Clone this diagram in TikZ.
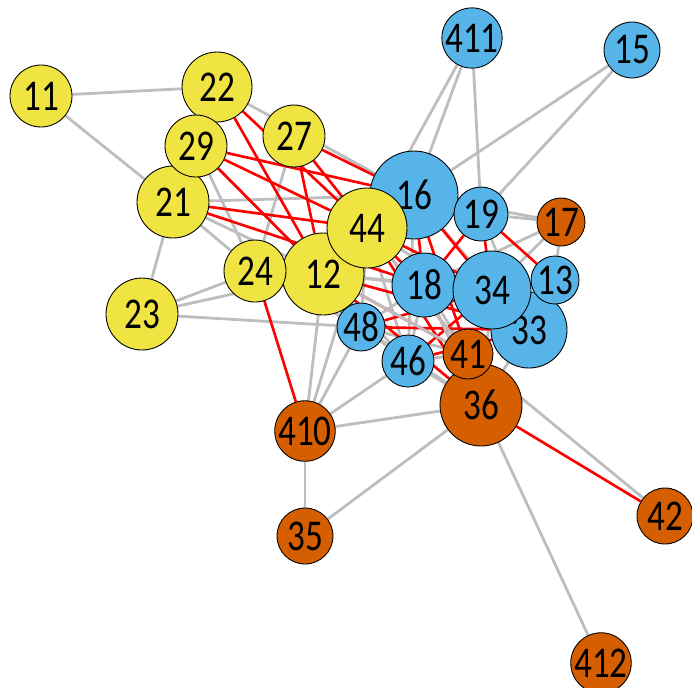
\documentclass[tikz,border=0pt]{standalone}
\usepackage{fontspec}
\setmainfont{Carlito}[FakeStretch=0.8]
\usetikzlibrary{backgrounds}
\definecolor{gelbv}{HTML}{F0E442}
\definecolor{blauv}{HTML}{56B4E9}
\definecolor{rostv}{HTML}{D55E00}
\definecolor{kgrau}{HTML}{BEBEBE}
\tikzset{
  vert/.style={circle,draw=black,line width=0.5pt,inner sep=0pt,font=\fontsize{25}{25}\selectfont},
  gelb/.style={vert,fill=gelbv},
  blau/.style={vert,fill=blauv},
  rost/.style={vert,fill=rostv},
  kante/.style={kgrau,line width=1.6pt},
  rkante/.style={red,line width=1.5pt},
}

\begin{document}
\begin{tikzpicture}[x=0.02cm,y=-0.02cm]
  \useasboundingbox (0,0) rectangle (692,687);
  % vertices
  \node[blau,minimum size=1.76cm] (n16) at (414,195) {16};
  \node[gelb,minimum size=1.64cm] (n12) at (323,274) {12};
  \node[gelb,minimum size=1.60cm] (n44) at (367,228) {44};
  \node[gelb,minimum size=1.24cm] (n11) at (41,96) {11};
  \node[gelb,minimum size=1.40cm] (n22) at (217,87) {22};
  \node[gelb,minimum size=1.44cm] (n21) at (173,202) {21};
  \node[gelb,minimum size=1.24cm] (n29) at (196,146) {29};
  \node[gelb,minimum size=1.24cm] (n27) at (294,136) {27};
  \node[gelb,minimum size=1.44cm] (n23) at (142,314) {23};
  \node[gelb,minimum size=1.24cm] (n24) at (255,271) {24};
  \node[blau,minimum size=1.08cm] (n19) at (481,214) {19};
  \node[blau,minimum size=1.20cm] (n411) at (472,38) {411};
  \node[blau,minimum size=1.12cm] (n15) at (632,50) {15};
  \node[blau,minimum size=1.52cm] (n33) at (529,330) {33};
  \node[blau,minimum size=0.96cm] (n13) at (555,280) {13};
  \node[blau,minimum size=1.28cm] (n18) at (424,285) {18};
  \node[blau,minimum size=1.56cm] (n34) at (492,290) {34};
  \node[blau,minimum size=0.96cm] (n48) at (361,327) {48};
  \node[blau,minimum size=1.04cm] (n46) at (408,361) {46};
  \node[rost,minimum size=0.96cm] (n17) at (561,222) {17};
  \node[rost,minimum size=1.64cm] (n36) at (481,405) {36};
  \node[rost,minimum size=1.00cm] (n41) at (468,354) {41};
  \node[rost,minimum size=1.04cm] (n410) at (305,431) {410};
  \node[rost,minimum size=1.12cm] (n35) at (305,536) {35};
  \node[rost,minimum size=1.12cm] (n42) at (665,516) {42};
  \node[rost,minimum size=0.92cm] (n412) at (601,663) {412};
  % edges
  \begin{scope}[on background layer]
    \foreach \a/\b in {11/22,11/21,23/21,23/24,23/12,23/48,22/16,29/12,29/24,
        21/16,21/24,21/12,27/24,24/12,24/48,411/16,411/44,411/19,15/16,15/19,
        17/19,17/16,17/18,17/34,17/13,19/33,16/33,12/18,12/34,12/48,44/46,
        44/48,12/410,44/410,48/410,46/410,36/410,410/35,36/35,41/42,36/412,
        18/46,18/41,48/41,48/36,46/36,34/41,34/36,33/36,18/33,48/18,46/41,
        12/46,44/33,16/46}
      \draw[kante] (n\a) -- (n\b);
    \foreach \a/\b in {22/12,22/44,29/16,29/44,29/12,21/44,27/44,27/16,27/12,
        24/410,36/42,19/13,44/18,44/34,16/18,16/34,19/18,19/34,12/41,12/36,
        44/41,48/34,46/34,46/33,18/36,16/41,12/33,48/33,21/18,44/36}
      \draw[rkante] (n\a) -- (n\b);
    % a few grey ones on top of the red bundle
    \foreach \a/\b in {12/41,48/46,18/36,44/41}
      \draw[kante] (n\a) -- (n\b);
  \end{scope}
\end{tikzpicture}
\end{document}
